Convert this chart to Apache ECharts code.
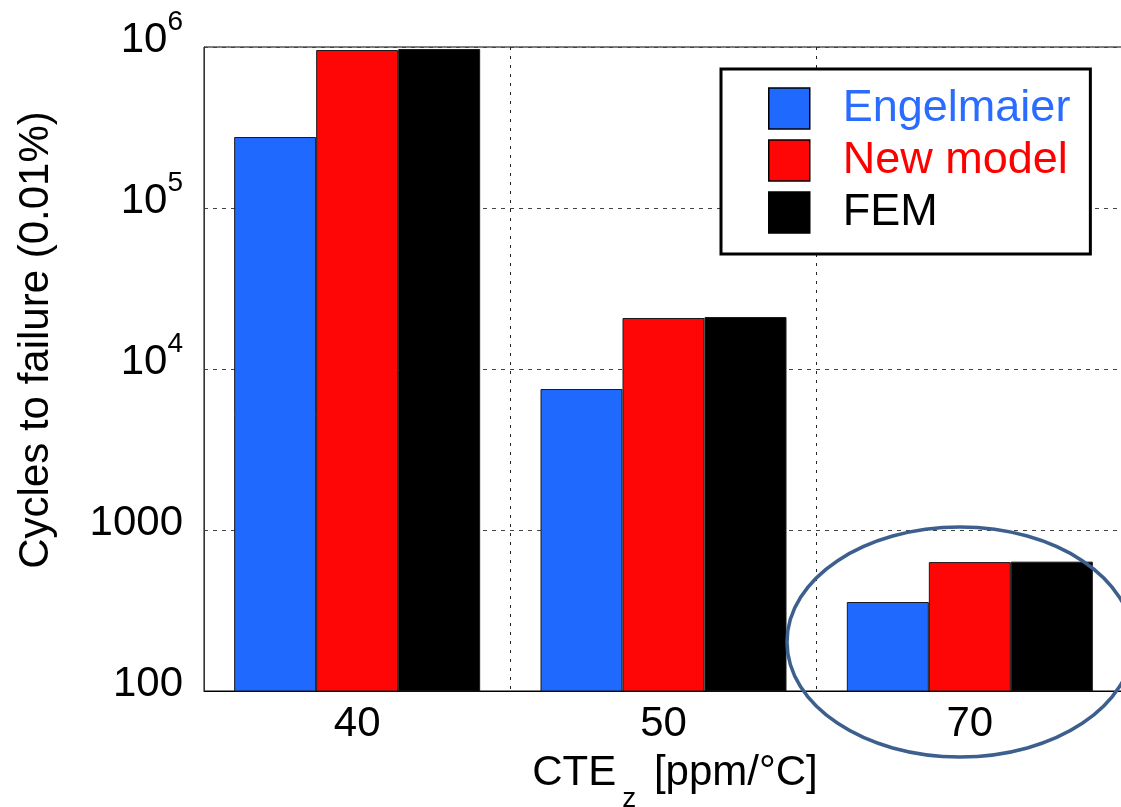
<!DOCTYPE html>
<html>
<head>
<meta charset="utf-8">
<script src="https://cdn.jsdelivr.net/npm/echarts@6/dist/echarts.min.js"></script>
<style>
html,body{margin:0;padding:0;background:#fff;}
#chart{width:1121px;height:807px;}
</style>
</head>
<body>
<div id="chart"></div>
<script>
var categories = ['40', '50', '70'];
var engelmaier = [276000, 7510, 357];
var newModel = [958000, 20740, 632];
var fem = [972000, 21040, 636];
var seriesNames = ['Engelmaier', 'New model', 'FEM'];
var yTicks = [100, 1000, 10000, 100000, 1000000];

var FONT = '"Liberation Sans", Arial, Helvetica, sans-serif';
var chart = echarts.init(document.getElementById('chart'), null, {renderer: 'canvas'});
var barBorder = {borderColor: '#1a1a1a', borderWidth: 1};
var legendKey = {'Engelmaier': 'e', 'New model': 'n', 'FEM': 'f'};

var option = {
  backgroundColor: '#fff',
  animation: false,
  textStyle: {fontFamily: FONT},
  grid: {left: 204, top: 47, width: 919, height: 644, show: true, borderColor: '#000', borderWidth: 1, containLabel: false, outerBoundsMode: 'none'},
  legend: {
    data: seriesNames,
    orient: 'vertical',
    left: 721, top: 69,
    itemWidth: 41, itemHeight: 41, itemGap: 7,
    padding: [17, 20, 19, 47],
    borderColor: '#000', borderWidth: 3,
    backgroundColor: '#fff',
    icon: 'rect',
    itemStyle: {borderColor: '#000', borderWidth: 1.5},
    formatter: function (name) { return '{' + legendKey[name] + '|' + name + '}'; },
    textStyle: {
      fontFamily: FONT,
      rich: {
        e: {color: '#2a6cff', fontSize: 45, lineHeight: 41, padding: [0, 0, 0, 28], fontFamily: FONT},
        n: {color: '#ff0000', fontSize: 45, lineHeight: 41, padding: [0, 0, 0, 28], fontFamily: FONT},
        f: {color: '#000000', fontSize: 45, lineHeight: 41, padding: [0, 0, 0, 28], fontFamily: FONT}
      }
    },
    z: 10
  },
  xAxis: {
    type: 'category',
    data: categories,
    axisLine: {show: true, lineStyle: {color: '#000', width: 1}},
    axisTick: {show: false},
    axisLabel: {fontSize: 42, color: '#000', margin: 12, fontFamily: FONT},
    splitLine: {show: true, lineStyle: {color: '#222', type: [3, 6], width: 1}},
    name: '{a|CTE}{z|z}{a| [ppm/°C]}',
    nameLocation: 'middle',
    nameGap: 42,
    nameTextStyle: {
      padding: [0, 0, 0, 23],
      rich: {
        a: {fontSize: 42, color: '#000', lineHeight: 80, verticalAlign: 'middle', fontFamily: FONT},
        z: {fontSize: 28, color: '#000', verticalAlign: 'bottom', padding: [0, 6, 0, 6], fontFamily: FONT}
      }
    }
  },
  yAxis: {
    type: 'log',
    logBase: 10,
    min: 100,
    max: 1000000,
    axisLine: {show: true, lineStyle: {color: '#333', width: 1}},
    axisTick: {show: false},
    splitLine: {show: true, lineStyle: {color: '#444', type: [4, 5], width: 1}},
    axisLabel: {
      margin: 21,
      padding: [0, 0, 14, 0],
      formatter: function (v) {
        if (v >= 10000) {
          var e = Math.round(Math.log10(v));
          return '{b|10}{s|' + e + '}';
        }
        return '{b|' + v + '}';
      },
      rich: {
        b: {fontSize: 42, color: '#000', lineHeight: 64, verticalAlign: 'middle', fontFamily: FONT},
        s: {fontSize: 28, color: '#000', verticalAlign: 'top', fontFamily: FONT}
      }
    },
    name: 'Cycles to failure (0.01%)',
    nameLocation: 'middle',
    nameRotate: 90,
    nameGap: 147,
    nameTextStyle: {fontSize: 42, color: '#000', fontFamily: FONT, padding: [0, 0, 0, 58]}
  },
  series: [
    {name: seriesNames[0], type: 'bar', data: engelmaier, barWidth: 82, barGap: '0%', itemStyle: Object.assign({color: '#1f69ff'}, barBorder)},
    {name: seriesNames[1], type: 'bar', data: newModel, barWidth: 82, barGap: '0%', itemStyle: Object.assign({color: '#ff0606'}, barBorder)},
    {name: seriesNames[2], type: 'bar', data: fem, barWidth: 82, barGap: '0%', itemStyle: Object.assign({color: '#000000'}, barBorder)}
  ],
  graphic: [
    {
      type: 'ellipse',
      shape: {cx: 960, cy: 642, rx: 173, ry: 115},
      style: {fill: 'none', stroke: '#3d5f8e', lineWidth: 3.5},
      z: 20
    }
  ]
};
chart.setOption(option);
</script>
</body>
</html>
